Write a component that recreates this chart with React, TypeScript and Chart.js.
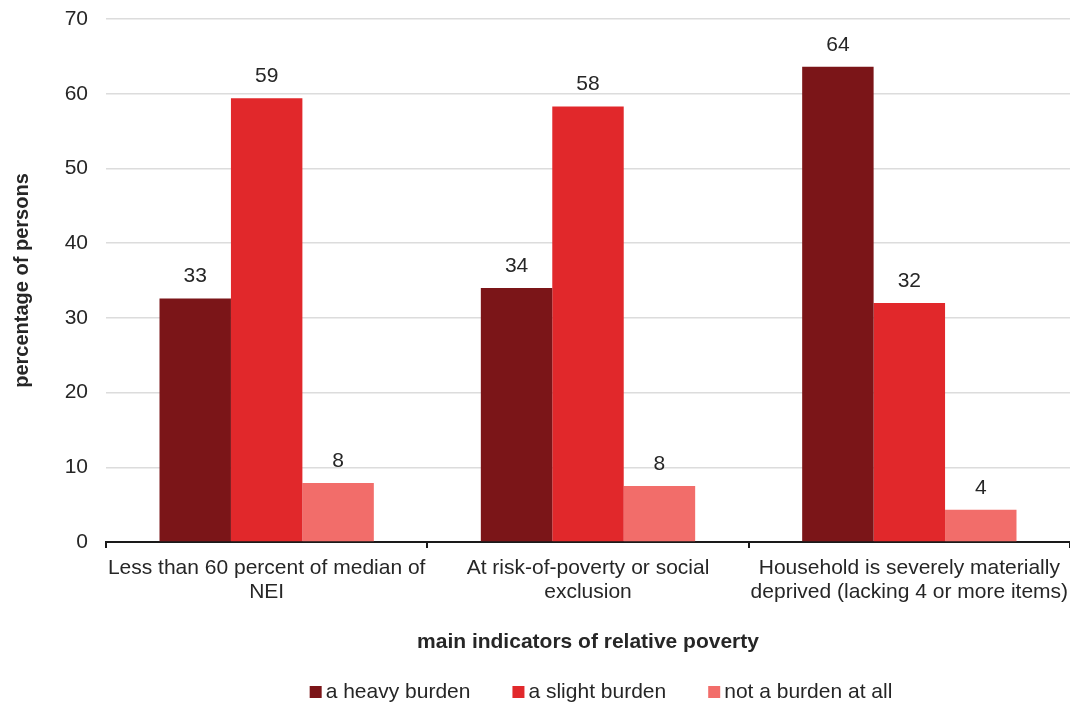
import React, { useEffect, useRef } from "react";
import { Chart, registerables } from "chart.js";

Chart.register(...registerables);

// Poverty indicators (x categories), each split into two text lines
const categories: string[][] = [
  ["Less than 60 percent of median of", "NEI"],
  ["At risk-of-poverty or social", "exclusion"],
  ["Household is severely materially", "deprived (lacking 4 or more items)"],
];

// Share of persons (%) by how heavy the burden is felt
const heavyBurden = [32.6, 34.0, 63.6];
const slightBurden = [59.4, 58.3, 32.0];
const notABurden = [7.9, 7.5, 4.3];

const seriesNames = ["a heavy burden", "a slight burden", "not a burden at all"];
const seriesColors = ["#7B1518", "#E1282B", "#F26D6A"];

const yTicks = [0, 10, 20, 30, 40, 50, 60, 70];

const FONT = "'Liberation Sans', Arial, sans-serif";
const TEXT = "#262626";

// Rounded value printed above each bar
const valueLabels = {
  id: "valueLabels",
  afterDatasetsDraw(chart: any) {
    const { ctx } = chart;
    ctx.save();
    ctx.font = `21px ${FONT}`;
    ctx.fillStyle = TEXT;
    ctx.textAlign = "center";
    ctx.textBaseline = "middle";
    chart.data.datasets.forEach((ds: any, i: number) => {
      const meta = chart.getDatasetMeta(i);
      meta.data.forEach((bar: any, j: number) => {
        ctx.fillText(String(Math.round(ds.data[j])), bar.x, bar.y - 22);
      });
    });
    ctx.restore();
  },
};

// Legend row along the bottom edge
const bottomLegend = {
  id: "bottomLegend",
  afterDraw(chart: any) {
    const { ctx } = chart;
    const box = 12;
    const gap = 4;
    const spacing = 42;
    const y = 692;
    ctx.save();
    ctx.font = `21px ${FONT}`;
    ctx.textBaseline = "middle";
    const items = chart.data.datasets.map((ds: any) => ({
      label: ds.label,
      color: ds.backgroundColor,
      w: box + gap + ctx.measureText(ds.label).width,
    }));
    const total =
      items.reduce((s: number, it: any) => s + it.w, 0) + spacing * (items.length - 1);
    let x = 601 - total / 2;
    items.forEach((it: any) => {
      ctx.fillStyle = it.color;
      ctx.fillRect(x, y - box / 2, box, box);
      ctx.fillStyle = TEXT;
      ctx.textAlign = "left";
      ctx.fillText(it.label, x + box + gap, y);
      x += it.w + spacing;
    });
    ctx.restore();
  },
};

export default function App() {
  const canvasRef = useRef<HTMLCanvasElement | null>(null);

  useEffect(() => {
    if (!canvasRef.current) return;
    const data = [heavyBurden, slightBurden, notABurden];
    const chart = new Chart(canvasRef.current, {
      type: "bar",
      data: {
        labels: categories,
        datasets: data.map((values, i) => ({
          label: seriesNames[i],
          data: values,
          backgroundColor: seriesColors[i],
          borderWidth: 0,
          barPercentage: 1,
          categoryPercentage: 0.667,
        })),
      },
      options: {
        animation: false,
        responsive: false,
        maintainAspectRatio: false,
        layout: { padding: { top: 19, right: 0, bottom: 42, left: 0 } },
        plugins: {
          legend: { display: false },
          tooltip: { enabled: false },
        },
        scales: {
          x: {
            offset: true,
            border: { display: true, color: "#1a1a1a", width: 2 },
            grid: {
              offset: true,
              drawOnChartArea: false,
              drawTicks: true,
              tickLength: 6,
              color: "#1a1a1a",
              lineWidth: 2,
            },
            ticks: {
              color: TEXT,
              font: { family: FONT, size: 21, lineHeight: 1.15 },
              padding: 8,
              maxRotation: 0,
              autoSkip: false,
            },
            title: {
              display: true,
              text: "main indicators of relative poverty",
              color: TEXT,
              font: { family: FONT, size: 21, weight: "bold" },
              padding: { top: 2, bottom: 12 },
            },
            afterFit(scale: any) {
              scale.height = 125;
              scale.paddingLeft = 0;
              scale.paddingRight = 0;
            },
          },
          y: {
            min: 0,
            max: 70,
            border: { display: false },
            grid: { color: "#dcdcdc", lineWidth: 1.5, drawTicks: false },
            afterBuildTicks(scale: any) {
              scale.ticks = yTicks.map((v) => ({ value: v }));
            },
            ticks: {
              color: TEXT,
              font: { family: FONT, size: 21 },
              padding: 18,
            },
            title: {
              display: true,
              text: "percentage of persons",
              color: TEXT,
              font: { family: FONT, size: 20, weight: "bold" },
              padding: { top: 10, bottom: 0 },
            },
            afterFit(scale: any) {
              scale.width = 106;
              scale.paddingTop = 0;
              scale.paddingBottom = 0;
            },
          },
        },
      },
      plugins: [valueLabels, bottomLegend],
    });
    return () => chart.destroy();
  }, []);

  return (
    <div style={{ position: "fixed", left: 0, top: 0, width: 1070, height: 709, background: "#fff" }}>
      <canvas ref={canvasRef} width={1070} height={709} />
    </div>
  );
}
